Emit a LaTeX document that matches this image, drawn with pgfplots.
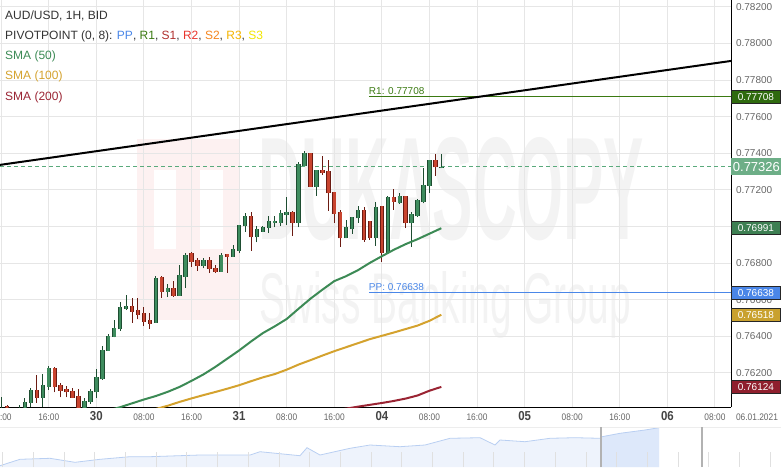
\documentclass[border=0pt]{standalone}
\usepackage{pgfplots}
\pgfplotsset{compat=1.18}
\usepackage{pgfplotstable}
\usepackage{graphicx}
\usepackage{fontspec}
\setmainfont{Liberation Sans}
\newfontfamily\narrowfont[FakeStretch=0.88]{Liberation Sans}

\definecolor{gridc}{HTML}{E6E6E6}
\definecolor{tickc}{HTML}{666666}
\definecolor{dayc}{HTML}{444444}
\definecolor{textc}{HTML}{333333}
\definecolor{gbody}{HTML}{3E8C5E}
\definecolor{gdark}{HTML}{1E4D31}
\definecolor{rbody}{HTML}{C8442F}
\definecolor{rdark}{HTML}{6B1B12}
\definecolor{sma50}{HTML}{3C8A55}
\definecolor{sma100}{HTML}{D4A22E}
\definecolor{sma200}{HTML}{9A2433}
\definecolor{r1c}{HTML}{3B7A12}
\definecolor{ppc}{HTML}{4A87E8}
\definecolor{curc}{HTML}{5AAA7C}
\definecolor{s1c}{HTML}{B0302E}
\definecolor{r2c}{HTML}{E8342C}
\definecolor{s2c}{HTML}{F5861F}
\definecolor{r3c}{HTML}{F4B400}
\definecolor{s3c}{HTML}{F2E600}
\definecolor{bxr1}{HTML}{2F6A0E}
\definecolor{bxcur}{HTML}{6DAE87}
\definecolor{bx50}{HTML}{3D7F52}
\definecolor{bxpp}{HTML}{4A86E8}
\definecolor{bx100}{HTML}{C9A12E}
\definecolor{bx200}{HTML}{8F1F2D}
\definecolor{navfill}{HTML}{EEF3FC}
\definecolor{navsel}{HTML}{DDE8FA}
\definecolor{navline}{HTML}{B9CFF2}
\definecolor{wmgray}{HTML}{F3F3F3}
\definecolor{wmred}{HTML}{FDF1F1}

\newcommand\dayl[1]{{\fontsize{13}{13}\selectfont\bfseries\color{dayc}#1}}

\pgfplotstableread{
k o h l c
-16 0.75990 0.76069 0.75980 0.76000
-13 0.75990 0.76025 0.75980 0.76000
-12 0.75995 0.76064 0.75980 0.76043
-11 0.76038 0.76116 0.76016 0.76107
-9 0.76062 0.76195 0.76016 0.76134
-8 0.76125 0.76238 0.76107 0.76225
-2 0.75995 0.76062 0.75980 0.76047
-1 0.76043 0.76113 0.76032 0.76102
0 0.76094 0.76220 0.76062 0.76176
1 0.76165 0.76348 0.76162 0.76326
2 0.76322 0.76413 0.76322 0.76402
3 0.76399 0.76490 0.76395 0.76444
4 0.76439 0.76586 0.76430 0.76559
5 0.76550 0.76626 0.76544 0.76566
10 0.76475 0.76730 0.76475 0.76717
12 0.76644 0.76686 0.76614 0.76666
14 0.76623 0.76790 0.76623 0.76734
15 0.76726 0.76854 0.76666 0.76845
18 0.76787 0.76830 0.76772 0.76817
21 0.76754 0.76858 0.76754 0.76845
23 0.76836 0.76899 0.76836 0.76878
24 0.76868 0.77009 0.76854 0.77009
25 0.77003 0.77076 0.76972 0.77058
27 0.76941 0.77005 0.76914 0.76987
28 0.76972 0.77005 0.76972 0.76996
29 0.76991 0.77058 0.76967 0.77031
30 0.77021 0.77058 0.76996 0.77031
31 0.77021 0.77091 0.77003 0.77073
32 0.77063 0.77160 0.77009 0.77082
34 0.77021 0.77355 0.76996 0.77342
35 0.77331 0.77413 0.77331 0.77400
37 0.77218 0.77309 0.77169 0.77309
42 0.76936 0.77036 0.76936 0.76996
43 0.76985 0.77054 0.76960 0.77051
44 0.77045 0.77113 0.77021 0.77091
47 0.76936 0.77136 0.76894 0.77109
49 0.76858 0.77167 0.76854 0.77164
51 0.77127 0.77182 0.77124 0.77167
53 0.77018 0.77082 0.76890 0.77069
54 0.77058 0.77149 0.77051 0.77145
55 0.77136 0.77322 0.77127 0.77227
56 0.77222 0.77364 0.77185 0.77364
58 0.77318 0.77397 0.77318 0.77326
}\greendata

\pgfplotstableread{
k o h l c
-15 0.76018 0.76025 0.75980 0.75995
-10 0.76107 0.76189 0.76038 0.76062
-7 0.76225 0.76235 0.76094 0.76122
-6 0.76133 0.76144 0.76067 0.76103
-5 0.76113 0.76129 0.76067 0.76094
-4 0.76102 0.76116 0.76062 0.76065
-3 0.76074 0.76111 0.75980 0.75995
6 0.76566 0.76608 0.76475 0.76535
7 0.76544 0.76608 0.76495 0.76517
8 0.76526 0.76559 0.76457 0.76481
9 0.76490 0.76526 0.76440 0.76468
11 0.76723 0.76730 0.76612 0.76644
13 0.76664 0.76703 0.76617 0.76623
16 0.76854 0.76863 0.76781 0.76808
17 0.76817 0.76827 0.76759 0.76787
19 0.76817 0.76832 0.76745 0.76767
20 0.76772 0.76790 0.76745 0.76754
22 0.76850 0.76850 0.76748 0.76836
26 0.77058 0.77082 0.76868 0.76941
33 0.77082 0.77087 0.76949 0.77021
36 0.77400 0.77400 0.77218 0.77218
38 0.77309 0.77386 0.77282 0.77291
39 0.77304 0.77364 0.77087 0.77182
40 0.77187 0.77187 0.77021 0.77069
41 0.77082 0.77091 0.76890 0.76936
45 0.77091 0.77109 0.76918 0.76927
46 0.77032 0.77032 0.76927 0.76936
48 0.77113 0.77113 0.76808 0.76858
50 0.77160 0.77205 0.77091 0.77136
52 0.77167 0.77167 0.76991 0.77018
57 0.77364 0.77397 0.77278 0.77324
}\reddata

\begin{document}
\begin{tikzpicture}
% watermark
\fill[wmred] (137pt,87pt) rectangle (239pt,268pt);
\fill[white] (154pt,158pt) rectangle (223pt,237pt);
\fill[wmred] (176pt,87pt) rectangle (200pt,268pt);
\node[anchor=south west, inner sep=0pt, text=wmgray] at (258pt,166pt) {\resizebox{386pt}{102pt}{\bfseries DUKASCOPY}};
\node[anchor=base west, inner sep=0pt, text=wmgray] at (259pt,84pt) {\resizebox{372pt}{52pt}{Swiss Banking Group}};

\begin{axis}[
  scale only axis, width=731pt, height=407pt,
  xmin=-16.2, xmax=106.7, ymin=0.76014, ymax=0.78238,
  axis x line*=bottom, axis y line*=right,
  axis line style={black, line width=1pt},
  major tick length=0pt,
  xtick={-16,-8,...,104},
  xticklabels={08:00,16:00,\dayl{30},08:00,16:00,\dayl{31},08:00,16:00,\dayl{04},08:00,16:00,\dayl{05},08:00,16:00,\dayl{06},08:00},
  xticklabel style={font=\narrowfont\fontsize{9.5}{10}\selectfont, text=tickc, anchor=base, yshift=-13pt},
  ytick={0.762,0.764,0.766,0.768,0.770,0.772,0.774,0.776,0.778,0.780,0.782},
  yticklabel={\pgfmathprintnumber[fixed,fixed zerofill,precision=5,assume math mode=true]{\tick}},
  yticklabel style={font=\fontsize{10}{12}\selectfont, text=tickc, anchor=west, xshift=1.5pt},
  scaled y ticks=false,
  grid=major, major grid style={gridc, line width=1pt},
  clip mode=individual,
]
% current price, pivot lines
\addplot[curc, line width=1pt, dash pattern=on 4pt off 3pt] coordinates {(-16.2,0.77326) (106.7,0.77326)};
\addplot[r1c, line width=1pt] coordinates {(45.8,0.77708) (106.7,0.77708)};
\addplot[ppc, line width=1pt] coordinates {(45.8,0.76638) (106.7,0.76638)};
% trend line
\addplot[black, line width=2pt] coordinates {(-16.2,0.77337) (106.7,0.77905)};

% green candles
\addplot[draw=none, mark=none, error bars/.cd, y dir=plus, y explicit, error mark=none,
  error bar style={draw=gdark, line width=1pt}]
  table[x=k, y=l, y error expr=\thisrow{h}-\thisrow{l}] {\greendata};
\addplot[draw=none, mark=none, error bars/.cd, y dir=plus, y explicit, error mark=none,
  error bar style={draw=gdark, line width=4.4pt}]
  table[x=k, y=o, y error expr=\thisrow{c}-\thisrow{o}] {\greendata};
\addplot[draw=none, mark=none, error bars/.cd, y dir=plus, y explicit, error mark=none,
  error bar style={draw=gbody, line width=2.6pt}]
  table[x=k, y=o, y error expr=\thisrow{c}-\thisrow{o}] {\greendata};
% red candles
\addplot[draw=none, mark=none, error bars/.cd, y dir=plus, y explicit, error mark=none,
  error bar style={draw=rdark, line width=1pt}]
  table[x=k, y=l, y error expr=\thisrow{h}-\thisrow{l}] {\reddata};
\addplot[draw=none, mark=none, error bars/.cd, y dir=plus, y explicit, error mark=none,
  error bar style={draw=rdark, line width=4.4pt}]
  table[x=k, y=c, y error expr=\thisrow{o}-\thisrow{c}] {\reddata};
\addplot[draw=none, mark=none, error bars/.cd, y dir=plus, y explicit, error mark=none,
  error bar style={draw=rbody, line width=2.6pt}]
  table[x=k, y=c, y error expr=\thisrow{o}-\thisrow{c}] {\reddata};

% SMAs
\addplot[sma50, line width=2pt] coordinates {
(2,0.75995) (4,0.76013) (6,0.76034) (8,0.76055) (10,0.76074) (12,0.76097) (14,0.76124)
(16,0.76157) (18,0.76192) (20,0.76233) (22,0.76278) (24,0.76323) (26,0.76372) (28,0.76418)
(30,0.76455) (32,0.76495) (34,0.76551) (36,0.76606) (38,0.76655) (40,0.76702) (42,0.76729)
(44,0.76762) (46,0.76802) (48,0.76838) (50,0.76873) (52,0.76904) (54,0.76931) (56,0.76961) (58,0.76991)};
\addplot[sma100, line width=2pt] coordinates {
(8,0.75985) (10,0.76003) (12,0.76021) (14,0.76042) (16,0.76061) (18,0.76079) (20,0.76096)
(22,0.76114) (24,0.76133) (26,0.76155) (28,0.76176) (30,0.76194) (32,0.76218) (34,0.76246)
(36,0.76270) (38,0.76295) (40,0.76319) (42,0.76341) (44,0.76363) (46,0.76385) (48,0.76403)
(50,0.76421) (52,0.76440) (54,0.76459) (56,0.76485) (58,0.76518)};
\addplot[sma200, line width=2pt] coordinates {
(40,0.75995) (42,0.76005) (44,0.76016) (46,0.76026) (48,0.76036) (50,0.76047) (52,0.76060)
(54,0.76077) (56,0.76103) (58,0.76124)};

% labels of pivot lines
\node[r1c, anchor=base west, inner sep=0pt, yshift=2pt, font=\fontsize{10}{12}\selectfont] at (axis cs:45.8,0.77708) {R1: 0.77708};
\node[ppc, anchor=base west, inner sep=0pt, yshift=2pt, font=\fontsize{10}{12}\selectfont] at (axis cs:45.8,0.76638) {PP: 0.76638};

% right price boxes
\tikzset{pbox/.style={anchor=west, text=white, font=\fontsize{10}{12}\selectfont, minimum width=49pt, minimum height=13pt, inner sep=0pt, draw=black!85, line width=0.8pt}}
\node[pbox, fill=bxr1] at (axis cs:106.7,0.77708) {0.77708};
\node[pbox, fill=bx50] at (axis cs:106.7,0.76991) {0.76991};
\node[pbox, fill=bxpp] at (axis cs:106.7,0.76638) {0.76638};
\node[pbox, fill=bx100] at (axis cs:106.7,0.76518) {0.76518};
\node[pbox, fill=bx200] at (axis cs:106.7,0.76124) {0.76124};
\node[pbox, fill=bxcur, draw=none, font=\fontsize{13}{14}\selectfont, minimum width=50pt, minimum height=17pt] at (axis cs:106.7,0.77326) {0.77326};
\end{axis}

% navigator
\begin{axis}[
  at={(0pt,-60pt)}, anchor=south west,
  scale only axis, width=781pt, height=40pt,
  xmin=0, xmax=781, ymin=0, ymax=40,
  hide axis, clip mode=individual,
]
\addplot[fill=navfill, draw=none] coordinates {
(0,1.3) (20,7.7) (50,8.7) (75,4.7) (100,7.7) (130,10.3) (150,10.3) (200,12) (250,12) (260,15.3)
(300,11.3) (307,19.3) (320,12) (350,18.7) (370,22) (400,20.3) (425,22) (450,28.7) (480,29.3)
(495,22) (500,27) (525,25.3) (550,28.7) (575,29.3) (600,28.7) (602,30.3) (620,33.7) (645,37) (659,39.3)} \closedcycle;
\addplot[fill=navsel, draw=none, restrict x to domain=600:660] coordinates {
(600,28.7) (602,30.3) (620,33.7) (645,37) (659,39.3)} \closedcycle;
\addplot[navline, line width=0.8pt] coordinates {
(0,1.3) (20,7.7) (50,8.7) (75,4.7) (100,7.7) (130,10.3) (150,10.3) (200,12) (250,12) (260,15.3)
(300,11.3) (307,19.3) (320,12) (350,18.7) (370,22) (400,20.3) (425,22) (450,28.7) (480,29.3)
(495,22) (500,27) (525,25.3) (550,28.7) (575,29.3) (600,28.7) (602,30.3) (620,33.7) (645,37) (659,39.3)};
\end{axis}

% navigator decorations
\draw[gridc!70, line width=0.8pt] (0pt,-20pt) -- (781pt,-20pt);
\foreach \i in {0,...,25} \draw[black!12, line width=0.6pt] ({2.5pt+30.7pt*\i},-60pt) -- ++(0pt,15pt);
\draw[black!30, line width=1.4pt] (601pt,-60pt) -- (601pt,-20pt);
\draw[black!30, line width=1.4pt] (702pt,-60pt) -- (702pt,-20pt);

% date at right of x axis
\node[anchor=base, inner sep=0pt, font=\narrowfont\fontsize{9.5}{10}\selectfont, text=tickc] at (757pt,-13pt) {06.01.2021};

% legend text
\tikzset{lgd/.style={anchor=west, inner sep=0pt, font=\fontsize{12}{14}\selectfont}}
\node[lgd, text=textc] at (5pt,391pt) {AUD/USD, 1H, BID};
\node[lgd, text=textc] at (5pt,371pt) {PIVOTPOINT (0, 8): \textcolor{ppc}{PP}, \textcolor{r1c}{R1}, \textcolor{s1c}{S1}, \textcolor{r2c}{R2}, \textcolor{s2c}{S2}, \textcolor{r3c}{R3}, \textcolor{s3c}{S3}};
\node[lgd, text=sma50] at (5pt,351pt) {SMA (50)};
\node[lgd, text=sma100] at (5pt,331pt) {SMA (100)};
\node[lgd, text=sma200] at (5pt,310pt) {SMA (200)};

\pgfresetboundingbox
\useasboundingbox (0pt,-60pt) rectangle (781pt,407pt);
\end{tikzpicture}
\end{document}
